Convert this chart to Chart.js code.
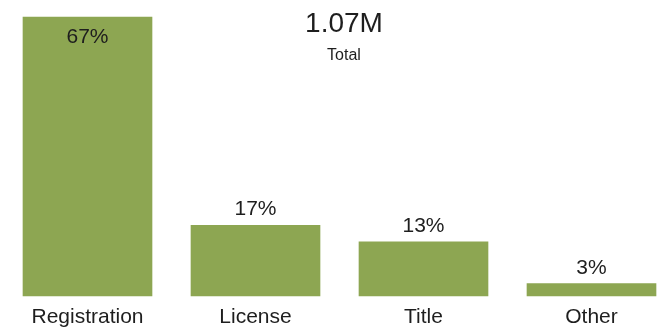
<!DOCTYPE html>
<html>
<head>
<meta charset="utf-8">
<script src="https://cdn.jsdelivr.net/npm/chart.js@4"></script>
<style>
  html, body { margin: 0; padding: 0; background: #fff; overflow: hidden; }
  #wrap { position: relative; width: 657px; height: 330px; }
  #kpi { position: absolute; left: 244px; top: 0; width: 200px; text-align: center;
         font-family: "Liberation Sans", Arial, sans-serif; color: #1e1e1e; pointer-events: none; }
  #kpi .value { font-size: 28px; line-height: 28px; margin-top: 9px; }
  #kpi .caption { font-size: 16px; line-height: 16px; margin-top: 10px; }
</style>
</head>
<body>
<div id="wrap">
  <canvas id="chart" width="657" height="330"></canvas>
  <div id="kpi"><div class="value" id="kpi-value"></div><div class="caption" id="kpi-caption"></div></div>
</div>
<script>
// --- datos ---
const categories = ['Registration', 'License', 'Title', 'Other'];
const shares = [67, 17, 13, 3];
const totalValue = '1.07M';
const totalCaption = 'Total';

const barColor = '#8da652';
const textColor = '#1e1e1e';
const fontFamily = '"Liberation Sans", Arial, sans-serif';

document.getElementById('kpi-value').textContent = totalValue;
document.getElementById('kpi-caption').textContent = totalCaption;

// etiquetas de porcentaje: encima de la barra, o dentro si no cabe
const pctLabels = {
  id: 'pctLabels',
  afterDatasetsDraw(chart) {
    const { ctx } = chart;
    const meta = chart.getDatasetMeta(0);
    ctx.save();
    ctx.font = '21px ' + fontFamily;
    ctx.fillStyle = textColor;
    ctx.textAlign = 'center';
    ctx.textBaseline = 'alphabetic';
    meta.data.forEach((bar, i) => {
      const text = shares[i] + '%';
      let y = bar.y - 10;
      if (y - 16 < 0) y = bar.y + 26;
      ctx.fillText(text, bar.x, y);
    });
    ctx.restore();
  }
};

new Chart(document.getElementById('chart'), {
  type: 'bar',
  data: {
    labels: categories,
    datasets: [{
      data: shares,
      backgroundColor: barColor,
      borderWidth: 0,
      barThickness: 129,
      clip: false
    }]
  },
  options: {
    responsive: false,
    animation: false,
    layout: { padding: { left: 87.5, right: 65.5, top: 17, bottom: 0 } },
    plugins: { legend: { display: false }, tooltip: { enabled: false } },
    scales: {
      x: {
        offset: false,
        grid: { display: false, drawTicks: false },
        border: { display: false },
        ticks: { color: textColor, padding: 9, font: { family: fontFamily, size: 21 }, maxRotation: 0, autoSkip: false },
        afterFit: (scale) => { scale.height = 34; }
      },
      y: { display: false, min: 0, max: 67 }
    }
  },
  plugins: [pctLabels]
});
</script>
</body>
</html>
